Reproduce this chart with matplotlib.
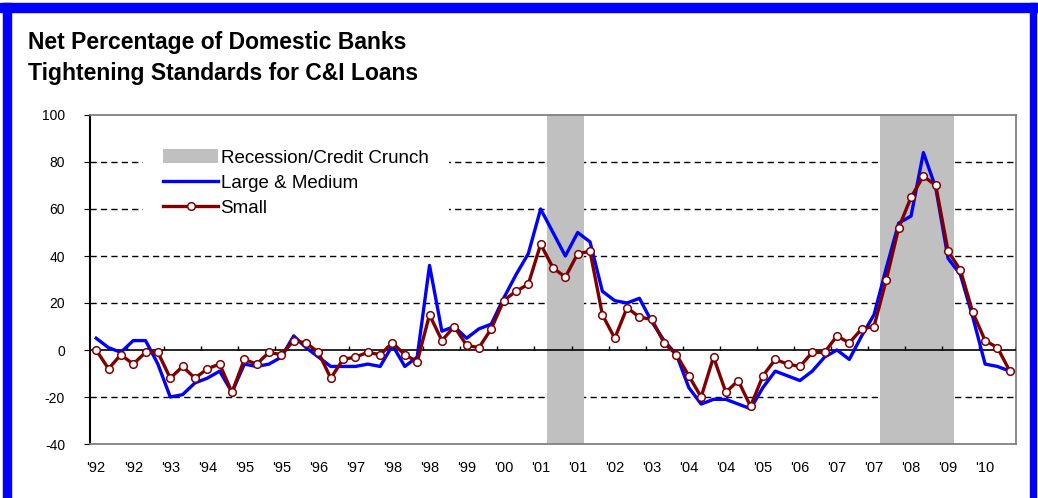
import numpy as np
import matplotlib
matplotlib.use('Agg')
import matplotlib.pyplot as plt
from matplotlib.patches import Patch, Rectangle
from matplotlib.lines import Line2D

plt.rcParams['font.family'] = ['Liberation Sans', 'DejaVu Sans']
plt.rcParams['axes.unicode_minus'] = False

# quarterly categories, 1992Q1 .. 2010Q3
quarters = [f"{y}Q{q}" for y in range(1992, 2011) for q in range(1, 5)][:75]

# net % tightening, large & medium firms
large_medium = [5, 1, -1, 4, 4, -6, -20, -19, -14, -12,
                -9, -18, -6, -7, -6, -3, 6, 1, -3, -7,
                -7, -7, -6, -7, 2, -7, -3, 36, 8, 10,
                5, 9, 11, 22, 32, 41, 60, 50, 40, 50,
                46, 25, 21, 20, 22, 12, 4, -2, -16, -23,
                -21, -21, -23, -25, -16, -9, -11, -13, -9, -3,
                0, -4, 6, 15, 35, 54, 57, 84, 69, 39,
                32, 14, -6, -7, -9]

# net % tightening, small firms
small = [0, -8, -2, -6, -1, -1, -12, -7, -12, -8,
         -6, -18, -4, -6, -1, -2, 4, 3, -1, -12,
         -4, -3, -1, -2, 3, -2, -5, 15, 4, 10,
         2, 1, 9, 21, 25, 28, 45, 35, 31, 41,
         42, 15, 5, 18, 14, 13, 3, -2, -11, -20,
         -3, -18, -13, -24, -11, -4, -6, -7, -1, -1,
         6, 3, 9, 10, 30, 52, 65, 74, 70, 42,
         34, 16, 4, 1, -9]

# recession / credit crunch periods (first and last quarter)
rec_start = ['2001Q2', '2008Q1']
rec_end = ['2001Q4', '2009Q2']

gridlines = [80, 60, 40, 20, -20]

x = np.arange(len(quarters))

fig = plt.figure(figsize=(10.38, 4.98), dpi=100)
W, H = 1038, 498
ax = fig.add_axes([90 / W, 1 - 444 / H, 926 / W, 329 / H])

ax.set_xlim(-0.5, len(quarters) - 0.5)
ax.set_ylim(-40, 100)

for g in gridlines:
    ax.axhline(g, color='black', lw=1, ls=(0, (4.5, 3)), zorder=1)

for s, e in zip(rec_start, rec_end):
    ax.axvspan(quarters.index(s) - 0.5, quarters.index(e) + 0.5,
               color='#C0C0C0', lw=0, zorder=2)

ax.axhline(0, color='black', lw=1.2, zorder=4)
ax.vlines(x[2::3] + 0.5, 0, 1.6, color='black', lw=1, zorder=4)

ax.plot(x, large_medium, color='#0000FF', lw=2.4, zorder=5)
ax.plot(x, small, color='#800000', lw=2.4, marker='o', ms=5.5,
        mfc='white', mec='#800000', mew=1.1, zorder=6)

# axis styling
for side in ['top', 'right', 'bottom']:
    ax.spines[side].set_color('#808080')
    ax.spines[side].set_linewidth(1.3)
ax.spines['left'].set_color('black')
ax.spines['left'].set_linewidth(1.5)

ax.set_yticks(range(-40, 101, 20))
ax.tick_params(axis='y', direction='out', length=4, labelsize=10, pad=14)
ax.set_xticks(x[::3])
ax.set_xticklabels(["'" + q[2:4] for q in quarters[::3]])
ax.tick_params(axis='x', length=0, labelsize=10.5, pad=12)

handles = [Patch(facecolor='#C0C0C0', edgecolor='none', label='Recession/Credit Crunch'),
           Line2D([], [], color='#0000FF', lw=2.4, label='Large & Medium'),
           Line2D([], [], color='#800000', lw=2.4, marker='o', ms=5.5,
                  mfc='white', mec='#800000', mew=1.1, label='Small')]
leg = ax.legend(handles=handles, loc='upper left', bbox_to_anchor=(0.057, 0.958),
                fontsize=13.5, frameon=True, fancybox=False, framealpha=1,
                edgecolor='none', borderpad=1.1, handlelength=2.9,
                handleheight=0.75, handletextpad=0.15, labelspacing=0.4,
                borderaxespad=0)
leg.set_zorder(10)

fig.text(28 / W, 1 - 31 / H,
         'Net Percentage of Domestic Banks\nTightening Standards for C&I Loans',
         fontsize=16.5, fontweight='bold', ha='left', va='top', linespacing=1.45)

# blue frame
blue = '#0000FF'
fig.patches.append(Rectangle((0, 1 - 12 / H), 1, 9 / H, transform=fig.transFigure,
                             color=blue, zorder=20))
fig.patches.append(Rectangle((3 / W, 0), 8 / W, 1 - 3 / H, transform=fig.transFigure,
                             color=blue, zorder=20))
fig.patches.append(Rectangle((1030 / W, 0), 6 / W, 1 - 3 / H, transform=fig.transFigure,
                             color=blue, zorder=20))

fig.savefig('out.png', dpi=100)
